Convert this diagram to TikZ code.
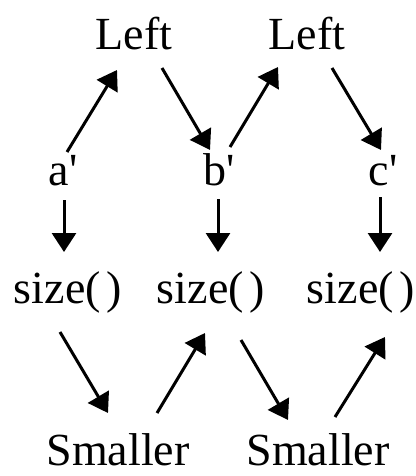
\documentclass[tikz,border=0pt]{standalone}
\usepackage{fontspec}
\setmainfont{Liberation Serif}[Ligatures=TeXOff]
\usetikzlibrary{arrows.meta,calc}
\begin{document}
\begin{tikzpicture}[x=1pt,y=-1pt,
  lbl/.style={anchor=base,inner sep=0pt,font=\fontsize{46}{50}\selectfont},
  arr/.style={line width=3pt,-{Triangle[length=19pt,width=24pt]}}]
\useasboundingbox (0,0) rectangle (415,476);
\node[lbl] (L1) at (134,50) {Left};
\node[lbl] (L2) at (307,50) {Left};
\node[lbl] (a) at (63,185) {a'};
\node[lbl] (b) at (219,185) {b'};
\node[lbl] (c) at (383,185) {c'};
\node[lbl] (s1) at (68,303) {size(\hspace{6pt})};
\node[lbl] (s2) at (211,303) {size(\hspace{6pt})};
\node[lbl] (s3) at (361,303) {size(\hspace{6pt})};
\node[lbl] (m1) at (118,465) {Smaller};
\node[lbl] (m2) at (318,465) {Smaller};
% upper zigzag
\draw[arr] ($(a.base)+(4,-33)$) -- ($(L1.base)+(-17,20)$);
\draw[arr] ($(L1.base)+(28,18)$) -- ($(b.base)+(-9,-35)$);
\draw[arr] ($(b.base)+(11,-38)$) -- ($(L2.base)+(-29,17)$);
\draw[arr] ($(L2.base)+(25,18)$) -- ($(c.base)+(-2,-35)$);
% down arrows
\draw[arr] ($(a.base)+(1,15)$) -- ($(s1.base)+(-4,-51)$);
\draw[arr] ($(b.base)+(-1,14)$) -- ($(s2.base)+(7,-51)$);
\draw[arr] ($(c.base)+(-3,12)$) -- ($(s3.base)+(19,-51)$);
% lower zigzag
\draw[arr] ($(s1.base)+(-8,29)$) -- ($(m1.base)+(-10,-52)$);
\draw[arr] ($(m1.base)+(39,-52)$) -- ($(s2.base)+(-6,30)$);
\draw[arr] ($(s2.base)+(30,37)$) -- ($(m2.base)+(-30,-45)$);
\draw[arr] ($(m2.base)+(17,-48)$) -- ($(s3.base)+(24,34)$);
\end{tikzpicture}
\end{document}
